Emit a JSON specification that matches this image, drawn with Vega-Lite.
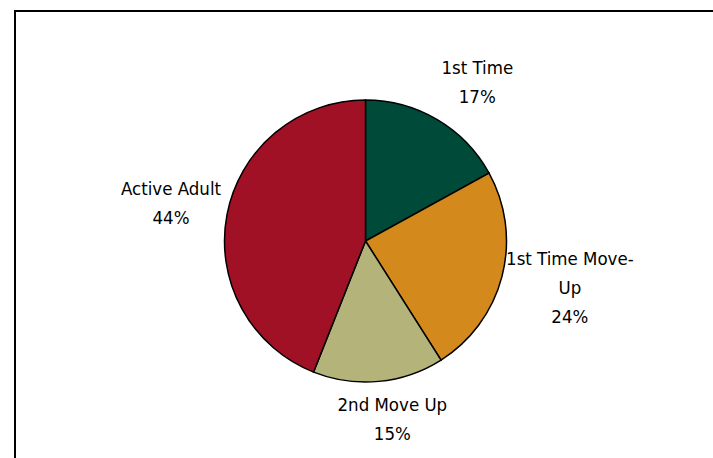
{
  "$schema": "https://vega.github.io/schema/vega-lite/v6.json",
  "autosize": {"type": "fit", "contains": "padding"},
  "width": 713,
  "height": 458,
  "padding": {"left": 15, "top": 11, "right": -3, "bottom": -13},
  "background": "white",
  "view": {"stroke": "black", "strokeWidth": 2},
  "config": {
    "view": {"stroke": "black", "strokeWidth": 2},
    "text": {"font": "DejaVu Sans Condensed", "fontSize": 18.5, "lineHeight": 29}
  },
  "data": {
    "values": [
      {"segment": "1st Time", "label": "1st Time", "share": 17, "rank": 1},
      {"segment": "1st Time Move-Up", "label": "1st Time Move-\nUp", "share": 24, "rank": 2},
      {"segment": "2nd Move Up", "label": "2nd Move Up", "share": 15, "rank": 3},
      {"segment": "Active Adult", "label": "Active Adult", "share": 44, "rank": 4}
    ]
  },
  "transform": [
    {"stack": "share", "groupby": [], "sort": [{"field": "rank", "order": "ascending"}], "as": ["s0", "s1"]},
    {"calculate": "(datum.s0 + datum.s1) / 2", "as": "mid"},
    {"calculate": "datum.label + '\\n' + datum.share + '%'", "as": "text"}
  ],
  "layer": [
    {
      "mark": {"type": "arc", "outerRadius": 141, "stroke": "black", "strokeWidth": 1.5},
      "encoding": {
        "theta": {"field": "s0", "type": "quantitative", "scale": {"domain": [0, 100]}},
        "theta2": {"field": "s1"},
        "color": {
          "field": "segment",
          "type": "nominal",
          "legend": null,
          "scale": {
            "domain": ["1st Time", "1st Time Move-Up", "2nd Move Up", "Active Adult"],
            "range": ["#004A3A", "#D4891C", "#B3B37A", "#A01126"]
          }
        }
      }
    },
    {
      "transform": [{"filter": "datum.segment === '1st Time'"}],
      "mark": {"type": "text", "radius": 194, "dx": 13, "dy": -6.5, "baseline": "middle", "align": "center", "lineBreak": "\n"},
      "encoding": {"theta": {"field": "mid", "type": "quantitative", "scale": {"domain": [0, 100]}}, "text": {"field": "text"}}
    },
    {
      "transform": [{"filter": "datum.segment === '1st Time Move-Up'"}],
      "mark": {"type": "text", "radius": 211, "dy": -34, "baseline": "middle", "align": "center", "lineBreak": "\n"},
      "encoding": {"theta": {"field": "mid", "type": "quantitative", "scale": {"domain": [0, 100]}}, "text": {"field": "text"}}
    },
    {
      "transform": [{"filter": "datum.segment === '2nd Move Up'"}],
      "mark": {"type": "text", "radius": 179, "dx": 10, "dy": -14.5, "baseline": "middle", "align": "center", "lineBreak": "\n"},
      "encoding": {"theta": {"field": "mid", "type": "quantitative", "scale": {"domain": [0, 100]}}, "text": {"field": "text"}}
    },
    {
      "transform": [{"filter": "datum.segment === 'Active Adult'"}],
      "mark": {"type": "text", "radius": 198, "dy": -14.5, "baseline": "middle", "align": "center", "lineBreak": "\n"},
      "encoding": {"theta": {"field": "mid", "type": "quantitative", "scale": {"domain": [0, 100]}}, "text": {"field": "text"}}
    }
  ]
}
